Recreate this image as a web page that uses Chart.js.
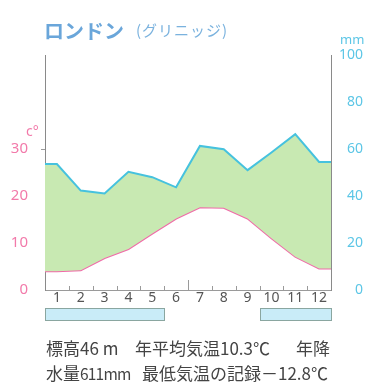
<!DOCTYPE html>
<html>
<head>
<meta charset="utf-8">
<script src="https://cdn.jsdelivr.net/npm/chart.js@4/dist/chart.umd.min.js"></script>
<style>
  body { margin: 0; background: #fff; }
  #wrap { position: relative; width: 374px; height: 390px; font-family: 'Noto Sans CJK JP', 'Noto Sans', sans-serif; }
  canvas { position: absolute; left: 0; top: 0; }
  .t { position: absolute; white-space: nowrap; line-height: 1; }
  .note { font-size: 17px; color: #444; }
  .tight { font-size: 15.5px; letter-spacing: -0.8px; }
</style>
</head>
<body>
<div id="wrap">
  <canvas class="js-chart" width="374" height="390"></canvas>
  <div class="t" style="left:44px;top:21px;font-size:20px;font-weight:bold;color:#6aa6da;">ロンドン</div>
  <div class="t" style="left:136px;top:22px;font-size:15px;color:#7ab2de;letter-spacing:1px;">(グリニッジ)</div>
  <div class="t" style="left:340px;top:33px;font-size:13px;color:#5cc6e6;font-family:'Noto Sans';">mm</div>
  <div class="t" style="left:26px;top:124px;font-size:14px;color:#f27aaa;font-family:'Noto Sans';">c°</div>
  <div class="t note" style="left:46px;top:339px;">標高46 m</div>
  <div class="t note" style="left:135px;top:339px;">年平均気温10.3℃</div>
  <div class="t note" style="left:296px;top:339px;">年降</div>
  <div class="t note" style="left:46px;top:364px;">水量<span class="tight">611mm</span></div>
  <div class="t note" style="left:142px;top:364px;">最低気温の記録－12.8℃</div>
</div>
<script>
const months = [1, 2, 3, 4, 5, 6, 7, 8, 9, 10, 11, 12];
const temperature = [4.0, 4.2, 6.8, 8.7, 12.0, 15.2, 17.6, 17.5, 15.2, 11.0, 7.1, 4.6];
const precipitation = [53.6, 42.3, 41.1, 50.3, 48.0, 43.7, 61.3, 59.9, 51.0, 58.5, 66.3, 54.5];
const tempTicks = [0, 10, 20, 30];
const precipTicks = [0, 20, 40, 60, 80, 100];
const barMonths = [[1, 5], [10, 12]];

const ctx = document.querySelector('.js-chart').getContext('2d');

// lines run flat out to the edges of the plot
function toPoints(values) {
  const pts = months.map((m, i) => ({ x: m, y: values[i] }));
  pts.unshift({ x: months[0] - 0.5, y: values[0] });
  pts.push({ x: months[months.length - 1] + 0.5, y: values[values.length - 1] });
  return pts;
}

const decor = {
  id: 'decor',
  afterDraw(chart) {
    const { ctx, chartArea, scales } = chart;
    const x = scales.x;
    ctx.save();
    ctx.strokeStyle = '#9a9a9a';
    ctx.lineWidth = 1;
    for (let m = 1; m < 12; m++) {
      const px = Math.round(x.getPixelForValue(m + 0.5)) + 0.5;
      const len = m === 6 ? 10 : 4;
      ctx.beginPath();
      ctx.moveTo(px, chartArea.bottom);
      ctx.lineTo(px, chartArea.bottom - len);
      ctx.stroke();
    }
    // small tick left of the temperature axis at 30
    const y30 = Math.round(scales.y.getPixelForValue(30)) + 0.5;
    ctx.beginPath();
    ctx.moveTo(chartArea.left - 4, y30);
    ctx.lineTo(chartArea.left, y30);
    ctx.stroke();
    // bars under the month labels
    ctx.fillStyle = '#c9ecf8';
    ctx.strokeStyle = '#8aa6a0';
    barMonths.forEach(([a, b]) => {
      const x0 = Math.round(x.getPixelForValue(a - 0.5)) + 0.5;
      const x1 = Math.round(x.getPixelForValue(b + 0.5)) + 0.5;
      ctx.fillRect(x0, 308.5, x1 - x0, 12);
      ctx.strokeRect(x0, 308.5, x1 - x0, 12);
    });
    ctx.restore();
  },
};

new Chart(ctx, {
  type: 'line',
  data: {
    datasets: [
      {
        label: 'precipitation',
        data: toPoints(precipitation),
        yAxisID: 'y2',
        borderColor: '#46c2de',
        borderWidth: 2,
        backgroundColor: '#c8e9b2',
        fill: 1,
        pointRadius: 0,
        tension: 0,
      },
      {
        label: 'temperature',
        data: toPoints(temperature),
        yAxisID: 'y',
        borderColor: '#f06aa8',
        borderWidth: 2,
        fill: false,
        pointRadius: 0,
        tension: 0,
      },
    ],
  },
  options: {
    responsive: false,
    animation: false,
    devicePixelRatio: 1,
    layout: { padding: { top: 55, left: 0, right: 11, bottom: 0 } },
    plugins: { legend: { display: false }, tooltip: { enabled: false } },
    scales: {
      x: {
        type: 'linear',
        min: 0.5,
        max: 12.5,
        afterBuildTicks: s => { s.ticks = months.map(v => ({ value: v })); },
        afterFit: s => { s.height = 100; },
        grid: { display: false, drawTicks: false, tickLength: 0 },
        border: { color: '#9a9a9a' },
        ticks: { color: '#555', font: { family: 'Noto Sans', size: 14 }, padding: 0 },
      },
      y: {
        position: 'left',
        min: 0,
        max: 50,
        afterBuildTicks: s => { s.ticks = tempTicks.map(v => ({ value: v })); },
        afterFit: s => { s.width = 45; },
        grid: { display: false, drawTicks: false, tickLength: 0 },
        border: { color: '#8a8a8a' },
        ticks: { color: '#f27aaa', font: { family: 'Noto Sans', size: 15 }, padding: 17 },
      },
      y2: {
        position: 'right',
        min: 0,
        max: 100,
        afterBuildTicks: s => { s.ticks = precipTicks.map(v => ({ value: v })); },
        afterFit: s => { s.width = 32; },
        grid: { display: false, drawTicks: false, tickLength: 0 },
        border: { color: '#8a8a8a' },
        ticks: { color: '#5cc6e6', font: { family: 'Noto Sans', size: 14 }, padding: 7, crossAlign: 'far' },
      },
    },
  },
  plugins: [decor],
});
</script>
</body>
</html>
